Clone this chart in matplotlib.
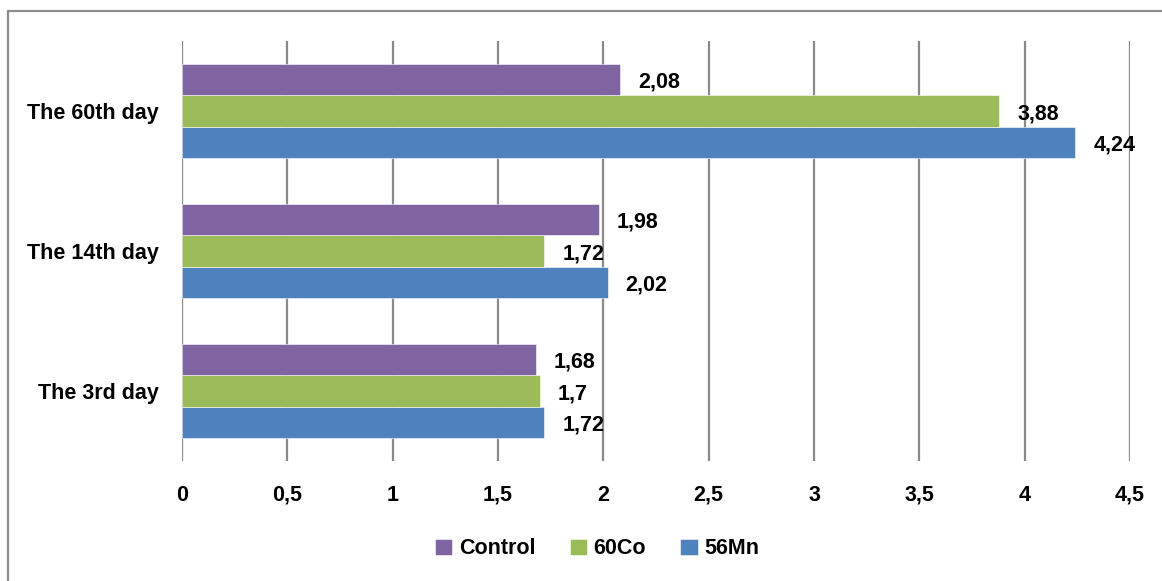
import matplotlib.pyplot as plt
from matplotlib import font_manager
from matplotlib.patches import Rectangle
from matplotlib.ticker import FuncFormatter
import numpy as np

# narrow bold font if available
names = {f.name for f in font_manager.fontManager.ttflist}
fam = [n for n in ['Liberation Sans Narrow', 'Arial Narrow', 'Liberation Sans'] if n in names] + ['DejaVu Sans']
plt.rcParams['font.family'] = fam
plt.rcParams['font.weight'] = 'bold'

days = ['The 3rd day', 'The 14th day', 'The 60th day']
series = ['56Mn', '60Co', 'Control']
mn56 = [1.72, 2.02, 4.24]
co60 = [1.7, 1.72, 3.88]
control = [1.68, 1.98, 2.08]
colors = ['#4F81BD', '#9BBB59', '#8064A2']

fig = plt.figure(figsize=(11.62, 5.81), dpi=100)
ax = fig.add_axes([182/1162, 1-461/581, 948/1162, 420/581])

h = 0.224
y = np.arange(len(days))
for i, (vals, c) in enumerate(zip([mn56, co60, control], colors)):
    pos = y + (i - 1) * h
    bars = ax.barh(pos, vals, height=h, color=c, edgecolor='white', linewidth=0.4,
                   label=series[i], zorder=3)
    for b, v in zip(bars, vals):
        ax.text(v + 0.085, b.get_y() + h/2 - 0.02, str(v).replace('.', ','),
                va='center', ha='left', fontsize=15.5, fontweight='bold', zorder=4)

ax.set_xlim(0, 4.5)
ax.set_ylim(-0.5, 2.5)
ax.set_xticks(np.arange(0, 4.51, 0.5))
ax.xaxis.set_major_formatter(FuncFormatter(lambda v, p: ('%g' % v).replace('.', ',')))
ax.set_yticks(y)
ax.set_yticklabels(days)
ax.tick_params(axis='x', length=0, pad=17, labelsize=15.5)
ax.tick_params(axis='y', length=0, pad=17, labelsize=15.5)
for s in ax.spines.values():
    s.set_visible(False)
ax.grid(axis='x', color='#8a8a8a', linewidth=1.6, zorder=0)

handles, labels = ax.get_legend_handles_labels()
ax.legend(handles[::-1], labels[::-1], loc='center', bbox_to_anchor=(597/1162, 1-549/581),
          bbox_transform=fig.transFigure, ncol=3, frameon=False, fontsize=15.5,
          handlelength=0.8, handleheight=0.8, handletextpad=0.3, columnspacing=1.6)

# outer chart border
fig.patches.append(Rectangle((8/1162, -0.05), 1.1, 1-11/581+0.05, transform=fig.transFigure,
                             fill=False, edgecolor='#8c8c8c', linewidth=1.6))

fig.savefig('out.png', dpi=100)
